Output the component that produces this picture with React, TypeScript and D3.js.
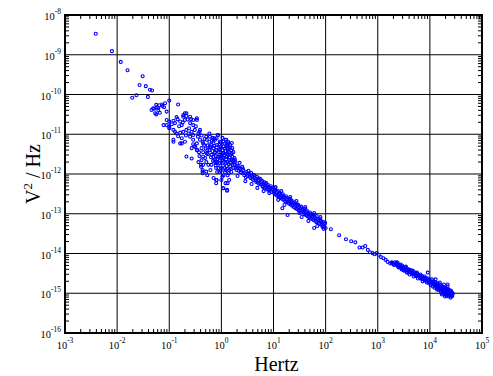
import React from 'react';
import * as d3 from 'd3';

// values, as [log10(Hz), log10(V^2/Hz)]
const lowFreqPoints: [number, number][] = [
  [-2.41, -8.47], [-2.10, -8.91], [-1.93, -9.18], [-1.80, -9.39], [-1.51, -9.54], [-1.57, -9.76],
  [-1.45, -9.79], [-1.37, -9.88], [-1.33, -9.90], [-1.71, -10.08], [-1.63, -10.02], [-1.41, -10.06],
  [-1.00, -10.15], [-0.83, -10.25], [-1.29, -10.36], [-1.24, -10.32], [-1.19, -10.27], [-1.14, -10.25],
  [-1.10, -10.32], [-1.25, -10.50], [-1.18, -10.46], [-1.05, -10.43], [-1.34, -10.39], [-1.21, -10.34],
  [-1.31, -10.35], [-1.25, -10.26], [-1.13, -10.29], [-1.08, -10.22], [-1.21, -10.39], [-1.27, -10.47],
];

const cloudPoints: [number, number][] = [
  [-1.11, -10.77], [-1.05, -10.64], [-1.00, -10.68], [-0.92, -10.66], [-0.89, -10.72], [-0.86, -10.57],
  [-0.79, -10.68], [-0.73, -10.56], [-0.70, -10.47], [-0.67, -10.54], [-0.76, -10.77], [-0.60, -10.72],
  [-0.54, -10.77], [-0.47, -10.64], [-0.92, -10.89], [-1.00, -10.85], [-0.86, -10.98], [-0.79, -10.96],
  [-0.73, -10.94], [-0.67, -10.89], [-0.63, -10.98], [-0.57, -10.94], [-0.51, -10.89], [-0.44, -10.98],
  [-0.41, -10.89], [-0.60, -11.06], [-0.54, -11.02], [-0.92, -11.14], [-0.79, -11.23], [-0.70, -11.19],
  [-0.54, -11.14], [-0.47, -11.23], [-0.41, -11.14], [-0.35, -11.23], [-0.28, -11.14], [-0.22, -11.06],
  [-0.15, -11.13], [-0.09, -11.10], [-0.03, -11.19], [-0.57, -11.61], [-0.47, -11.40], [-0.38, -11.35],
  [-0.35, -11.56], [-0.28, -11.48], [-0.22, -11.31], [-0.15, -11.23], [-0.03, -11.40], [0.04, -11.48],
  [0.10, -11.56], [-0.09, -11.73], [-0.35, -11.77], [-0.73, -10.52], [-0.67, -10.47], [-0.60, -10.56],
  [-0.54, -10.64], [-0.47, -10.60], [-0.70, -10.64], [-1.00, -10.81], [-1.05, -10.77], [-0.89, -10.94],
  [-0.92, -11.19], [-0.76, -11.23], [-0.57, -11.35], [-0.67, -11.56], [-0.42, -10.94], [-0.29, -11.06],
  [-0.23, -10.98], [-0.13, -11.10], [-0.07, -11.02], [0.09, -11.14], [0.12, -11.23], [-0.36, -11.19],
  [-0.76, -11.10], [-0.39, -11.82], [-0.36, -11.94], [-0.10, -12.15], [0.03, -12.36], [0.11, -12.40],
  [-0.10, -12.23], [0.04, -12.36], [0.11, -12.42], [-0.09, -12.15], [-0.39, -11.77], [-0.29, -11.94],
  [-0.36, -11.98], [0.02, -12.07], [0.15, -12.15], [0.12, -12.23],
  [-0.95, -10.75], [-0.84, -10.62], [-0.81, -10.80], [-0.74, -10.70], [-0.65, -10.63], [-0.62, -10.85],
  [-0.58, -10.62], [-0.49, -10.80], [-0.45, -11.06], [-0.38, -11.03], [-0.32, -11.12], [-0.26, -11.28],
  [-0.68, -11.03], [-0.83, -11.05], [-0.52, -11.30], [-0.43, -11.45],
];

const corePoints: [number, number][] = [
  [-0.33, -11.27], [-0.27, -11.40], [-0.23, -11.19], [-0.19, -11.52], [-0.15, -11.35], [-0.13, -11.65],
  [-0.12, -11.45], [-0.08, -11.27], [-0.06, -11.57], [-0.04, -11.72], [-0.02, -11.37], [0, -11.52],
  [0.02, -11.65], [0.04, -11.30], [0.06, -11.85], [0.08, -11.42], [0.10, -11.57], [0.12, -11.70],
  [0.13, -11.35], [0.15, -11.90], [0.17, -11.52], [0.19, -11.65], [0.21, -11.77], [0.23, -11.45],
  [0.25, -11.60], [-0.31, -11.60], [-0.25, -11.77], [-0.21, -11.90], [-0.17, -11.09], [-0.10, -11.85],
  [-0.04, -11.95], [0.04, -12.03], [0.12, -12.03], [0.19, -11.95], [-0.35, -11.45], [-0.29, -11.70],
  [-0.19, -11.77], [-0.12, -11.14], [-0.06, -11.02], [0.02, -11.09], [0.08, -11.14], [0.13, -11.19],
  [0.17, -11.27], [0.21, -11.35], [0.27, -11.70], [0.29, -11.80], [-0.38, -11.65], [-0.42, -11.55],
  [-0.46, -11.40], [-0.50, -11.32], [-0.54, -11.25], [-0.44, -11.70], [-0.36, -11.90], [-0.27, -12.03],
  [-0.15, -12.10], [0, -12.15], [0.08, -12.23], [-0.10, -11.40], [-0.04, -11.52], [0.02, -11.40],
  [0.06, -11.52], [0.10, -11.35], [0.13, -11.52], [0.15, -11.65], [0.08, -11.72], [-0.02, -11.80],
  [-0.08, -11.70], [-0.15, -11.57], [0.04, -11.60], [0.12, -11.45], [0.19, -11.40], [0.23, -11.85],
  [0.08, -11.90], [0, -11.85], [-0.12, -11.70], [-0.23, -11.40], [-0.19, -11.27], [-0.04, -11.27],
  [0.04, -11.19], [0.12, -11.27], [0.15, -11.45], [0.21, -11.57], [0.25, -11.77], [-0.08, -11.95],
  [0.17, -11.80], [0.10, -11.80], [-0.13, -11.47],
  [-0.21, -11.33], [-0.17, -11.42], [-0.14, -11.29], [-0.11, -11.55], [-0.09, -11.33], [-0.07, -11.62],
  [-0.05, -11.44], [-0.03, -11.66], [-0.01, -11.31], [0.01, -11.58], [0.03, -11.47], [0.05, -11.69],
  [0.07, -11.36], [0.09, -11.63], [0.11, -11.49], [0.14, -11.75], [0.16, -11.58], [0.18, -11.72],
  [0.20, -11.48], [0.22, -11.67], [0.24, -11.71], [0.26, -11.64], [0.03, -11.79], [0.07, -11.95],
  [0.11, -11.87], [0.14, -11.98], [0.18, -11.88], [-0.01, -11.92], [-0.06, -11.85], [-0.11, -11.78],
  [-0.16, -11.67], [-0.20, -11.58], [-0.26, -11.50], [-0.30, -11.36], [-0.18, -11.16], [-0.01, -11.20],
  [0.06, -11.24], [0.16, -11.33], [0.20, -11.22], [0.10, -11.28],
];

const midBandPoints: [number, number][] = [
  [0.27, -11.85], [0.31, -11.80], [0.33, -11.92], [0.36, -11.87], [0.38, -11.97], [0.42, -11.90],
  [0.44, -12.03], [0.48, -11.95], [0.50, -12.05], [0.54, -12.00], [0.56, -12.10], [0.59, -12.05],
  [0.61, -12.15], [0.65, -12.10], [0.67, -12.20], [0.71, -12.15], [0.73, -12.25], [0.77, -12.20],
  [0.79, -12.30], [0.82, -12.25], [0.84, -12.35], [0.88, -12.30], [0.90, -12.40], [0.94, -12.35],
  [0.96, -12.45], [1.00, -12.40], [1.02, -12.50], [1.06, -12.45], [1.07, -12.55], [1.11, -12.50],
  [1.13, -12.60], [1.17, -12.55], [1.19, -12.65], [1.23, -12.60], [1.25, -12.70], [1.29, -12.65],
  [1.30, -12.75], [1.34, -12.70], [1.36, -12.80], [1.40, -12.75], [1.42, -12.86], [1.46, -12.80],
  [1.48, -12.91], [1.52, -12.86], [1.54, -12.96], [1.57, -12.91], [1.59, -13.01], [1.63, -12.96],
  [1.65, -13.06], [1.69, -13.01], [1.71, -13.11], [1.75, -13.06], [1.77, -13.16], [1.80, -13.11],
  [1.82, -13.21], [1.86, -13.16], [1.88, -13.26], [1.92, -13.21], [1.94, -13.31], [1.98, -13.26],
  [2.00, -13.36], [0.40, -11.82], [0.52, -11.92], [0.63, -12.03], [0.75, -12.13], [0.86, -12.23],
  [0.92, -12.48], [1.04, -12.33], [1.15, -12.43], [1.21, -12.78], [1.32, -12.58], [1.44, -12.68],
  [1.50, -12.98], [1.61, -12.83], [1.67, -13.18], [1.78, -12.98], [1.84, -13.31], [1.90, -13.08],
  [1.96, -13.38], [0.69, -12.35], [0.81, -12.43], [1.09, -12.65], [1.27, -13.03], [1.54, -13.08],
  [1.78, -13.36], [1.17, -12.86], [0.58, -12.25], [0.46, -12.18], [0.31, -12.05], [0.35, -11.72],
  [0.29, -11.90], [0.34, -11.84], [0.37, -11.95], [0.41, -11.86], [0.45, -11.98], [0.47, -12.08],
  [0.51, -11.99], [0.55, -12.07], [0.57, -11.97], [0.60, -12.12], [0.62, -12.02], [0.66, -12.16],
  [0.68, -12.07], [0.70, -12.22], [0.72, -12.11], [0.76, -12.26], [0.78, -12.17], [0.80, -12.33],
  [0.83, -12.21], [0.85, -12.29], [0.87, -12.38], [0.89, -12.27], [0.91, -12.34], [0.93, -12.42],
  [0.95, -12.31], [0.98, -12.38], [1.01, -12.46], [1.03, -12.36], [1.05, -12.52], [1.08, -12.42],
  [1.10, -12.56], [1.12, -12.47], [1.14, -12.53], [1.16, -12.62], [1.18, -12.51], [1.20, -12.58],
  [1.22, -12.68], [1.24, -12.56], [1.26, -12.64], [1.28, -12.72], [1.31, -12.62], [1.33, -12.77],
  [1.35, -12.67], [1.37, -12.73], [1.39, -12.83], [1.41, -12.71], [1.43, -12.78], [1.45, -12.88],
  [1.47, -12.77], [1.49, -12.84], [1.51, -12.93], [1.53, -12.82], [1.56, -12.89], [1.58, -12.97],
  [1.60, -12.87], [1.62, -13.03], [1.64, -12.92], [1.66, -12.99], [1.68, -13.08], [1.70, -12.97],
  [1.72, -13.04], [1.74, -13.13], [1.76, -13.02], [1.79, -13.08], [1.81, -13.18], [1.83, -13.06],
  [1.85, -13.13], [1.87, -13.23], [1.89, -13.12], [1.91, -13.18], [1.93, -13.27], [1.95, -13.20],
  [1.97, -13.33], [1.99, -13.23],
];

const tailPoints: [number, number][] = [
  [1.94, -13.33], [2.10, -13.39], [2.26, -13.54], [2.39, -13.64], [2.49, -13.69], [2.57, -13.72],
  [2.65, -13.85], [2.71, -13.85], [2.76, -13.81], [2.81, -13.91], [2.85, -13.97], [2.90, -13.99],
  [2.94, -14.02], [2.98, -13.99], [3.02, -14.03], [3.06, -14.09], [3.11, -14.12], [3.15, -14.16],
  [3.19, -14.21], [3.24, -14.25], [3.27, -14.23], [3.32, -14.29], [3.36, -14.23], [3.39, -14.33],
  [3.43, -14.35], [3.46, -14.37], [3.51, -14.42], [3.55, -14.46], [3.59, -14.48],
];

const highBandPoints: [number, number][] = [
  [3.27, -14.23], [3.31, -14.28], [3.35, -14.25], [3.38, -14.30], [3.42, -14.33], [3.44, -14.28],
  [3.48, -14.35], [3.52, -14.38], [3.54, -14.33], [3.58, -14.43], [3.59, -14.40], [3.63, -14.45],
  [3.65, -14.50], [3.67, -14.43], [3.71, -14.50], [3.73, -14.55], [3.75, -14.48], [3.79, -14.55],
  [3.81, -14.60], [3.82, -14.53], [3.86, -14.60], [3.88, -14.65], [3.90, -14.58], [3.94, -14.65],
  [3.96, -14.70], [3.98, -14.63], [4.00, -14.68], [4.02, -14.73], [4.04, -14.65], [4.06, -14.75],
  [4.07, -14.70], [4.09, -14.78], [4.11, -14.73], [4.13, -14.80], [4.15, -14.75], [4.17, -14.83],
  [4.19, -14.78], [4.19, -14.88], [4.21, -14.80], [4.23, -14.86], [4.23, -14.91], [4.25, -14.83],
  [4.27, -14.88], [4.27, -14.96], [4.29, -14.86], [4.30, -14.91], [4.30, -14.98], [4.32, -14.88],
  [4.34, -14.93], [4.34, -15.01], [4.36, -14.91], [4.36, -14.98], [4.38, -14.96], [4.38, -15.03],
  [4.40, -14.93], [4.40, -15.01], [4.42, -14.98], [4.42, -15.06], [4.44, -15.01], [4.32, -15.06],
  [4.29, -15.03], [4.25, -15.01], [4.21, -14.96], [4.17, -14.91], [4.13, -14.88], [4.09, -14.86],
  [4.06, -14.83], [4.02, -14.80], [3.98, -14.75], [3.94, -14.73], [3.90, -14.68], [3.86, -14.70],
  [3.82, -14.63], [3.77, -14.63], [3.69, -14.58], [3.61, -14.53], [3.56, -14.48], [3.50, -14.43],
  [3.46, -14.40], [3.40, -14.35], [4.11, -14.65], [4.19, -14.73], [4.27, -14.78], [4.34, -14.83],
  [3.96, -14.48], [4.34, -14.78], [3.38, -14.23], [4.29, -15.08], [4.36, -15.08], [4.40, -15.11],
  [4.23, -15.03],
  [3.29, -14.26], [3.33, -14.22], [3.37, -14.28], [3.41, -14.30], [3.45, -14.35], [3.47, -14.31],
  [3.50, -14.38], [3.53, -14.35], [3.57, -14.41], [3.60, -14.44], [3.62, -14.41], [3.64, -14.47],
  [3.66, -14.45], [3.68, -14.53], [3.70, -14.47], [3.72, -14.52], [3.74, -14.57], [3.76, -14.51],
  [3.78, -14.58], [3.80, -14.56], [3.83, -14.62], [3.85, -14.57], [3.87, -14.63], [3.89, -14.61],
  [3.91, -14.66], [3.93, -14.62], [3.95, -14.68], [3.97, -14.66], [3.99, -14.72], [4.01, -14.70],
  [4.03, -14.76], [4.05, -14.71], [4.08, -14.76], [4.10, -14.81], [4.12, -14.77], [4.14, -14.84],
  [4.16, -14.79], [4.18, -14.86], [4.20, -14.83], [4.22, -14.89], [4.24, -14.93], [4.26, -14.86],
  [4.28, -14.92], [4.28, -15.00], [4.31, -14.95], [4.33, -14.91], [4.33, -14.99], [4.35, -14.96],
  [4.35, -15.04], [4.37, -14.94], [4.37, -15.01], [4.39, -14.98], [4.39, -15.06], [4.41, -14.96],
  [4.41, -15.03], [4.43, -15.00], [4.43, -15.07], [4.31, -15.03], [4.26, -14.98], [4.22, -14.94],
  [4.18, -14.89], [4.14, -14.91],
];

const xDecades = [-3, -2, -1, 0, 1, 2, 3, 4, 5];
const yDecades = [-16, -15, -14, -13, -12, -11, -10, -9, -8];

const allPoints = [...lowFreqPoints, ...cloudPoints, ...corePoints, ...midBandPoints, ...tailPoints, ...highBandPoints];

const W = 493;
const H = 376;
const left = 65, right = 482, top = 15, bottom = 333;
const font = '"Liberation Serif", "Times New Roman", serif';

export default function App() {
  const x = d3.scaleLog().domain([1e-3, 1e5]).range([left, right]);
  const y = d3.scaleLog().domain([1e-16, 1e-8]).range([bottom, top]);

  const isDecade = (t: number) => Math.abs(Math.log10(t) - Math.round(Math.log10(t))) < 1e-6;
  const xMinor = x.ticks().filter(t => !isDecade(t));
  const yMinor = y.ticks().filter(t => !isDecade(t));
  const tick = 4;

  return (
    <svg width={W} height={H} style={{position: 'absolute', left: 0, top: 0, background: '#fff'}}
         fontFamily={font}>
      <rect x={0} y={0} width={W} height={H} fill="#fff"/>

      {/* decade grid */}
      {xDecades.slice(1, -1).map(e => (
        <line key={'gx' + e} x1={x(10 ** e)} x2={x(10 ** e)} y1={top} y2={bottom} stroke="#000" strokeWidth={1}/>
      ))}
      {yDecades.slice(1, -1).map(e => (
        <line key={'gy' + e} x1={left} x2={right} y1={y(10 ** e)} y2={y(10 ** e)} stroke="#000" strokeWidth={1}/>
      ))}

      {/* minor ticks, inside on all four sides */}
      {xMinor.map((t, i) => (
        <g key={'mx' + i} stroke="#000" strokeWidth={1}>
          <line x1={x(t)} x2={x(t)} y1={bottom} y2={bottom - tick}/>
          <line x1={x(t)} x2={x(t)} y1={top} y2={top + tick}/>
        </g>
      ))}
      {yMinor.map((t, i) => (
        <g key={'my' + i} stroke="#000" strokeWidth={1}>
          <line x1={left} x2={left + tick} y1={y(t)} y2={y(t)}/>
          <line x1={right} x2={right - tick} y1={y(t)} y2={y(t)}/>
        </g>
      ))}

      {/* data */}
      {allPoints.map((p, i) => (
        <circle key={i} cx={x(10 ** p[0])} cy={y(10 ** p[1])} r={1.5}
                fill="none" stroke="#0000ff" strokeWidth={1.1}/>
      ))}

      <rect x={left} y={top} width={right - left} height={bottom - top} fill="none" stroke="#000" strokeWidth={2}/>

      {/* tick labels */}
      {xDecades.map(e => (
        <text key={'lx' + e} x={x(10 ** e)} y={bottom + 16} textAnchor="middle" fontSize={10.5} fill="#000">
          10<tspan dy={-6} fontSize={7.5}>{e}</tspan>
        </text>
      ))}
      {yDecades.map(e => (
        <text key={'ly' + e} x={61} y={y(10 ** e) + 5} textAnchor="end" fontSize={10.5} fill="#000">
          10<tspan dy={-6} fontSize={7.5}>{e}</tspan>
        </text>
      ))}

      {/* axis titles */}
      <text x={(left + right) / 2 + 3} y={371} textAnchor="middle" fontSize={20} fill="#000">Hertz</text>
      <text transform={`translate(40, ${(top + bottom) / 2}) rotate(-90)`} textAnchor="middle" fontSize={20} fill="#000">
        V<tspan dy={-8} fontSize={13}>2</tspan><tspan dy={8}> / Hz</tspan>
      </text>
    </svg>
  );
}
